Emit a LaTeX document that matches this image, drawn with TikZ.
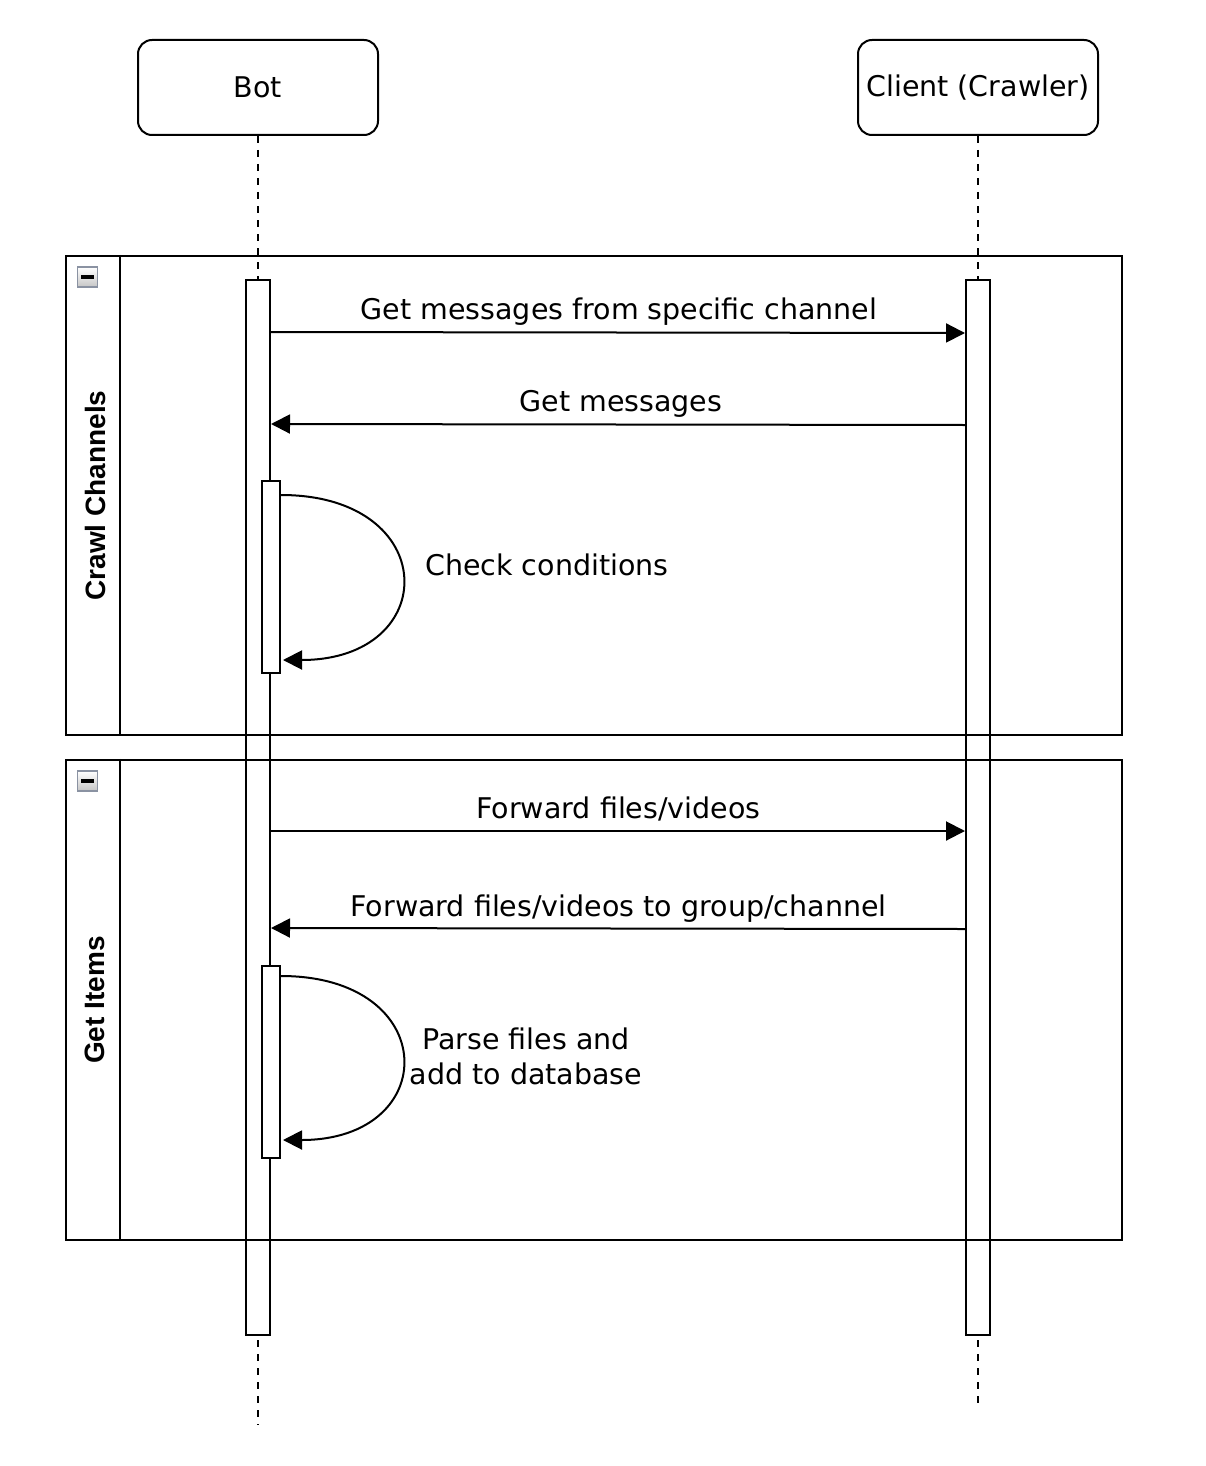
\documentclass[tikz,border=0pt]{standalone}
\usepackage{fontspec}
\setmainfont{DejaVu Sans}
\newfontfamily\framefont{Liberation Sans}
\usetikzlibrary{arrows.meta}
\definecolor{iconedge}{RGB}{138,146,162}
\tikzset{
  actor/.style={draw, line width=2pt, rounded corners=14pt, minimum width=240pt, minimum height=95pt, inner sep=0pt, font=\fontsize{28.5}{34}\selectfont},
  lifeline/.style={line width=2pt, dash pattern=on 7pt off 7pt},
  actbar/.style={draw, fill=white, line width=2pt, minimum width=24pt, inner sep=0pt},
  subbar/.style={draw, fill=white, line width=2pt, minimum width=18pt, minimum height=192pt, inner sep=0pt},
  frameline/.style={line width=2.4pt},
  framelabel/.style={rotate=90, font=\framefont\fontsize{28}{32}\selectfont\bfseries, inner sep=0pt},
  msg/.style={line width=2pt, -{Triangle[length=19pt,width=19pt]}},
  msglabel/.style={anchor=base, inner sep=0pt, font=\fontsize{28.5}{35}\selectfont},
  icon/.style={draw=iconedge, line width=1.5pt, top color=white, bottom color=gray!45, minimum size=20pt, inner sep=0pt}
}
\begin{document}
\begin{tikzpicture}[x=1pt,y=-1pt]
\useasboundingbox (0,0) rectangle (1206,1466);
\fill[white] (0,0) rectangle (1206,1466);

% actors
\node[actor] (bot) at (258,87.5) {Bot};
\node[actor] (client) at (978,87.5) {Client (Crawler)};

% lifelines
\coordinate (botend) at (258,1425);
\coordinate (clientend) at (978,1410);
\draw[lifeline] (bot.south) -- (botend);
\draw[lifeline] (client.south) -- (clientend);

% activation bars
\node[actbar, minimum height=1055pt] (botbar) at (258,807.5) {};
\node[actbar, minimum height=1055pt] (clientbar) at (978,807.5) {};

% frames
\node[draw, frameline, minimum width=1056pt, minimum height=479pt, inner sep=0pt] (fr1) at (594,495.5) {};
\node[draw, frameline, minimum width=1056pt, minimum height=480pt, inner sep=0pt] (fr2) at (594,1000) {};
\draw[frameline] (fr1.north west) ++(55,0) coordinate (d1a) -- (d1a |- fr1.south);
\draw[frameline] (fr2.north west) ++(55,0) coordinate (d2a) -- (d2a |- fr2.south);
\node[framelabel] (lab1) at (95,495.5) {Crawl Channels};
\node[framelabel] (lab2) at (95,1000) {Get Items};

% collapse icons
\node[icon] (ic1) at (87.5,277) {};
\draw[line width=3.5pt] ([xshift=-6.5pt]ic1.center) -- ([xshift=6.5pt]ic1.center);
\node[icon] (ic2) at (87.5,781) {};
\draw[line width=3.5pt] ([xshift=-6.5pt]ic2.center) -- ([xshift=6.5pt]ic2.center);

% nested activations
\node[subbar] (sub1) at (271,577) {};
\node[subbar] (sub2) at (271,1062) {};

% messages
\draw[msg] (botbar.east |- 0,332) -- (clientbar.west |- 0,333);
\node[msglabel] (m1) at (619,319) {Get messages from specific channel};

\draw[msg] (clientbar.west |- 0,425) -- (botbar.east |- 0,424);
\node[msglabel] (m2) at (621,411) {Get messages};

\draw[msg] (sub1.east |- 0,495) .. controls (442,495) and (442,660) .. ([xshift=2pt]sub1.east |- 0,660);
\node[msglabel, anchor=base west] (m3) at (425,575) {Check conditions};

\draw[msg] (botbar.east |- 0,831) -- (clientbar.west |- 0,831);
\node[msglabel] (m4) at (618.5,818) {Forward files/videos};

\draw[msg] (clientbar.west |- 0,929) -- (botbar.east |- 0,928);
\node[msglabel] (m5) at (618.5,916) {Forward files/videos to group/channel};

\draw[msg] (sub2.east |- 0,976) .. controls (442,976) and (442,1140) .. ([xshift=2pt]sub2.east |- 0,1140);
\node[msglabel, align=center] (m6) at (526,1084) {Parse files and\\add to database};

\end{tikzpicture}
\end{document}
